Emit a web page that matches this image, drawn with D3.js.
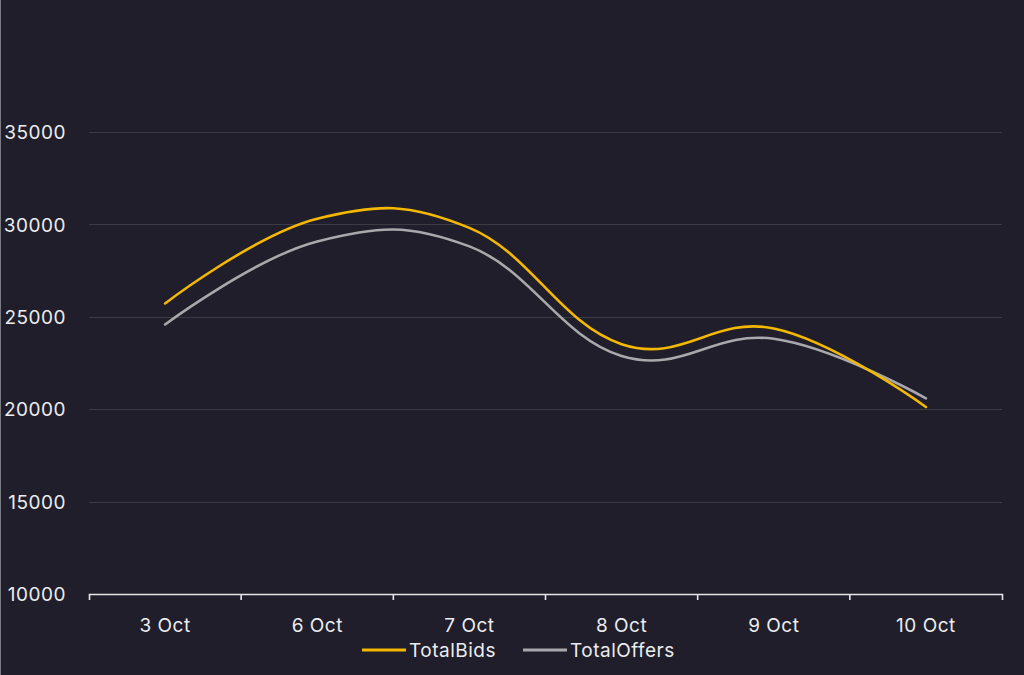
<!DOCTYPE html>
<html>
<head>
<meta charset="utf-8">
<script src="https://cdn.jsdelivr.net/npm/d3@7"></script>
<style>
  html, body { margin: 0; padding: 0; background: #1f1e2a; }
  svg { display: block; }
  text { font-family: Inter, "Open Sans", sans-serif; }
</style>
</head>
<body>
<svg id="chart" width="1024" height="675"></svg>
<script>
const categories = ["3 Oct", "6 Oct", "7 Oct", "8 Oct", "9 Oct", "10 Oct"];
const totalBids = [25720, 30310, 29810, 23520, 24370, 20120];
const totalOffers = [24585, 29080, 28810, 22880, 23810, 20590];
const yTicks = [10000, 15000, 20000, 25000, 30000, 35000];
const seriesNames = ["TotalBids", "TotalOffers"];
const seriesColors = ["#f5b800", "#a8a8ad"];

const svg = d3.select("#chart");
const W = 1024, H = 675;
svg.append("rect").attr("width", W).attr("height", H).attr("fill", "#1f1e2a");
svg.append("rect").attr("x", 0).attr("y", 0).attr("width", 1).attr("height", H).attr("fill", "#7c7c84");

const x = d3.scaleBand().domain(categories).range([89, 1002]).padding(0);
const y = d3.scaleLinear().domain([10000, 35000]).range([594, 132]);

// grid
svg.append("g").selectAll("line").data(yTicks.filter(d => d > 10000)).join("line")
  .attr("x1", 89).attr("x2", 1002)
  .attr("y1", d => Math.round(y(d)) + 0.5).attr("y2", d => Math.round(y(d)) + 0.5)
  .attr("stroke", "#3c3b45").attr("stroke-width", 1);

// y labels
const yAxis = svg.append("g").attr("transform", "translate(66,0)")
  .call(d3.axisLeft(y).tickValues(yTicks).tickSize(0).tickPadding(0).tickFormat(d3.format("d")));
yAxis.select(".domain").remove();
yAxis.selectAll("text").attr("fill", "#ececef").style("font-size", "19px").attr("dy", "0.35em")
  .style("letter-spacing", "0.5px");

// x axis
const xAxis = svg.append("g").attr("transform", `translate(0,${y(10000)})`)
  .call(d3.axisBottom(x).tickSize(0).tickSizeOuter(6).tickPadding(25));
xAxis.select(".domain").attr("stroke", "#e6e6e9").attr("stroke-width", 1.6);
xAxis.selectAll("text").attr("fill", "#ececef").style("font-size", "19px").style("letter-spacing", "0.5px");
const bounds = categories.slice(1).map(c => x(c));
xAxis.append("g").selectAll("line").data(bounds).join("line")
  .attr("x1", d => d).attr("x2", d => d).attr("y1", 0).attr("y2", 6)
  .attr("stroke", "#e6e6e9").attr("stroke-width", 1.6);

// lines
const line = d3.line()
  .x((d, i) => x(categories[i]) + x.bandwidth() / 2)
  .y(d => y(d))
  .curve(d3.curveCardinal.tension(-0.2));

[totalOffers, totalBids].forEach((data, k) => {
  const idx = k === 0 ? 1 : 0;
  svg.append("path").datum(data).attr("d", line)
    .attr("fill", "none").attr("stroke", seriesColors[idx]).attr("stroke-width", 2.6)
    .attr("stroke-linecap", "round");
});

// legend
const legendItems = [{ x: 362, name: seriesNames[0], color: seriesColors[0] },
                     { x: 523, name: seriesNames[1], color: seriesColors[1] }];
const lg = svg.append("g");
legendItems.forEach(it => {
  lg.append("line").attr("x1", it.x).attr("x2", it.x + 44).attr("y1", 650).attr("y2", 650)
    .attr("stroke", it.color).attr("stroke-width", 3);
  lg.append("text").attr("x", it.x + 47).attr("y", 650).attr("dy", "0.35em")
    .attr("fill", "#ececef").style("font-size", "19px").style("letter-spacing", "0.5px").text(it.name);
});
</script>
</body>
</html>
